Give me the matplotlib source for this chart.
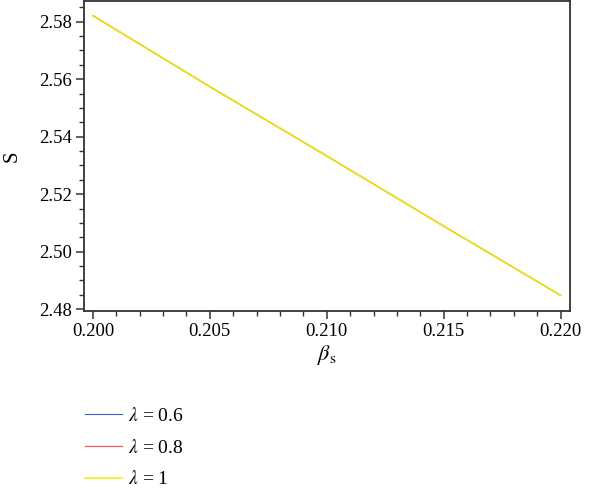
import matplotlib
matplotlib.use("Agg")
import matplotlib.pyplot as plt
from matplotlib.ticker import MultipleLocator

plt.rcParams['font.family'] = ['Liberation Serif', 'DejaVu Serif']
plt.rcParams['mathtext.fontset'] = 'stix'

beta_s = [0.200, 0.205, 0.210, 0.215, 0.220]
S_lam06 = [2.5821, 2.5574, 2.5333, 2.5089, 2.4848]
S_lam08 = [2.5821, 2.5574, 2.5333, 2.5089, 2.4848]
S_lam1 = [2.5821, 2.5574, 2.5333, 2.5089, 2.4848]
labels = [r'$\lambda$ = 0.6', r'$\lambda$ = 0.8', r'$\lambda$ = 1']
colors = ['#3a5fcd', '#ff4d4d', '#eeee00']

fig = plt.figure(figsize=(6, 4.9), dpi=100)
ax = fig.add_axes([0.14, 0.366, 0.81, 0.632])

handles = []
for ys, lab, c, lw in zip([S_lam06, S_lam08, S_lam1], labels, colors, [0.8, 0.8, 1.1]):
    h, = ax.plot(beta_s, ys, color=c, lw=lw, label=lab)
    handles.append(h)

ax.set_xlim(0.19962, 0.2204)
ax.set_ylim(2.4795, 2.5872)
ax.xaxis.set_major_locator(MultipleLocator(0.005))
ax.xaxis.set_minor_locator(MultipleLocator(0.001))
ax.yaxis.set_major_locator(MultipleLocator(0.02))
ax.yaxis.set_minor_locator(MultipleLocator(0.005))
ax.xaxis.set_major_formatter(plt.FormatStrFormatter('%.3f'))
ax.yaxis.set_major_formatter(plt.FormatStrFormatter('%.2f'))

for s in ax.spines.values():
    s.set_color('#333333')
    s.set_linewidth(1.3)
ax.tick_params(which='major', direction='out', length=6, width=1.1, color='#333333', labelsize=13.5, pad=3)
ax.tick_params(which='minor', direction='out', length=3.5, width=1.0, color='#333333')

ax.set_xlabel(r'$\beta_{\rm s}$', fontsize=16, labelpad=2)
ax.set_ylabel('S', fontsize=15, labelpad=12)

fig.legend(handles=handles, labels=labels, loc='upper left', bbox_to_anchor=(0.128, 0.185),
           frameon=False, fontsize=14, handlelength=1.9, handletextpad=0.35, labelspacing=0.7,
           borderaxespad=0)

fig.savefig('out.png', dpi=100)
